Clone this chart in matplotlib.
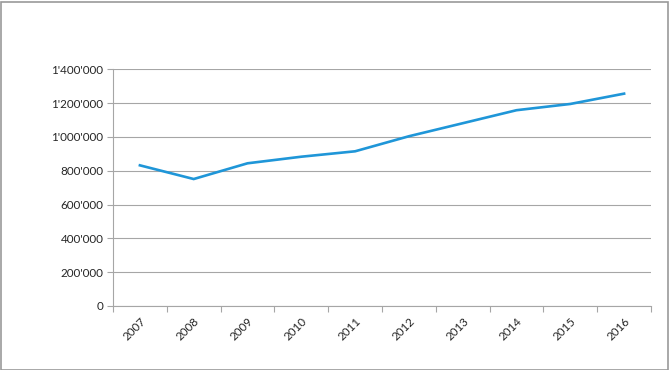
import matplotlib
matplotlib.use("Agg")
import matplotlib.pyplot as plt
from matplotlib.patches import Rectangle
from matplotlib.ticker import FuncFormatter

years = ["2007", "2008", "2009", "2010", "2011", "2012", "2013", "2014", "2015", "2016"]
values = [832000, 751000, 844000, 883000, 915000, 1004000, 1081000, 1158000, 1195000, 1256000]
y_ticks = [0, 200000, 400000, 600000, 800000, 1000000, 1200000, 1400000]

plt.rcParams['font.family'] = ['Lato', 'DejaVu Sans']

fig = plt.figure(figsize=(6.7, 3.7), dpi=100)
ax = fig.add_axes([113/670, 1-306/370, (651-113)/670, (306-69.3)/370])

x = list(range(len(years)))
ax.plot(x, values, color="#1f96d8", linewidth=1.9, solid_joinstyle="miter")

ax.set_xlim(-0.5, len(years) - 0.5)
ax.set_ylim(0, 1400000)
ax.set_yticks(y_ticks)

def fmt(v, pos):
    return f"{int(v):,}".replace(",", "'")
ax.yaxis.set_major_formatter(FuncFormatter(fmt))

ax.set_xticks(x)
ax.set_xticklabels(years, rotation=45, ha="right", rotation_mode="anchor")
ax.set_xticks([i - 0.5 for i in range(len(years) + 1)], minor=True)
ax.tick_params(axis="x", which="major", length=0, pad=7, labelsize=8.4, labelcolor="#262626")
ax.tick_params(axis="x", which="minor", length=4, color="#a6a6a6", width=0.8)
ax.tick_params(axis="y", which="major", length=4, color="#a6a6a6", width=0.8, labelsize=8.4, labelcolor="#262626", pad=3)

ax.grid(axis="y", color="#a6a6a6", linewidth=0.8)
ax.set_axisbelow(True)
for side in ["top", "right"]:
    ax.spines[side].set_visible(False)
for side in ["left", "bottom"]:
    ax.spines[side].set_color("#a6a6a6")
    ax.spines[side].set_linewidth(0.8)

fig.patches.append(Rectangle((0.5/670, 0.5/370), 667.5/670, 368/370, transform=fig.transFigure,
                             fill=False, edgecolor="#999999", linewidth=1.2))

fig.savefig("out.png", dpi=100)
